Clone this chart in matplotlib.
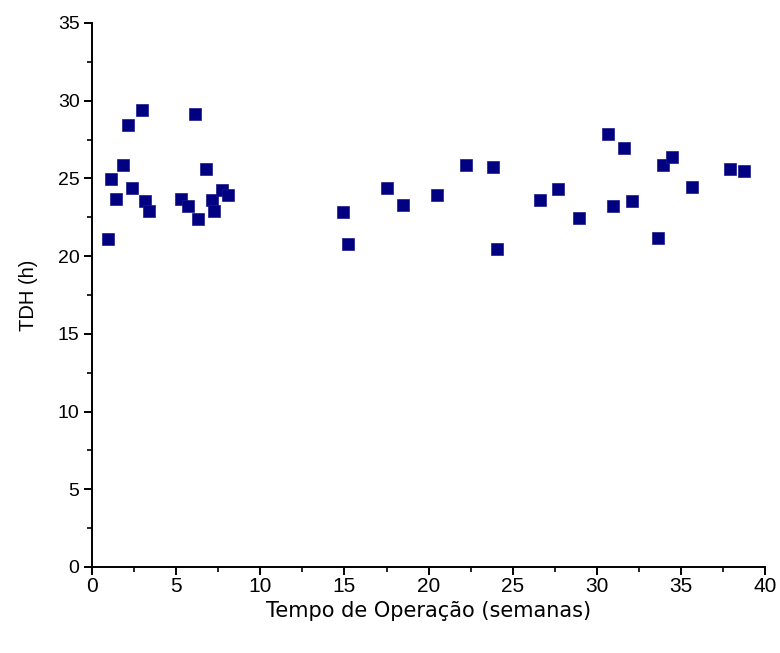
import numpy as np
import matplotlib
matplotlib.use('Agg')
import matplotlib.pyplot as plt
from matplotlib.ticker import MultipleLocator

# semanas de operacao e TDH (h)
semanas = [0.95, 1.13, 1.43, 1.84, 2.14, 2.38, 2.97, 3.15, 3.39,
           5.29, 5.71, 6.12, 6.30, 6.78, 7.13, 7.25, 7.73, 8.08,
           14.93, 15.23, 17.51, 18.50, 20.52, 22.23, 23.82, 24.09,
           26.63, 27.66, 28.95, 30.65, 30.95, 31.64, 32.08, 33.66,
           33.92, 34.49, 35.64, 37.92, 38.77]
tdh = [21.1, 24.96, 23.68, 25.86, 28.44, 24.38, 29.40, 23.55, 22.9,
       23.68, 23.23, 29.15, 22.39, 25.6, 23.6, 22.9, 24.25, 23.93,
       22.86, 20.76, 24.36, 23.29, 23.93, 25.86, 25.76, 20.44,
       23.61, 24.32, 22.43, 27.86, 23.23, 26.94, 23.55, 21.15,
       25.86, 26.36, 24.43, 25.61, 25.48]

plt.rcParams['font.family'] = ['Liberation Sans', 'DejaVu Sans']

fig = plt.figure(figsize=(7.8, 6.53), dpi=100)
ax = fig.add_axes([0.118, 0.1317, 0.863, 0.8331])

ax.plot(semanas, tdh, linestyle='none', marker='s', markersize=8.6,
        color='#000080', markeredgecolor='#1a1a8c', markeredgewidth=0.5)

ax.set_xlim(0, 40)
ax.set_ylim(0, 35)
ax.xaxis.set_major_locator(MultipleLocator(5))
ax.xaxis.set_minor_locator(MultipleLocator(2.5))
ax.yaxis.set_major_locator(MultipleLocator(5))
ax.yaxis.set_minor_locator(MultipleLocator(2.5))

ax.spines['top'].set_visible(False)
ax.spines['right'].set_visible(False)
ax.spines['left'].set_linewidth(1.4)
ax.spines['bottom'].set_linewidth(1.4)
ax.tick_params(which='major', direction='out', length=6, width=1.4)
ax.tick_params(which='minor', direction='out', length=3.5, width=1.2)
ax.tick_params(axis='y', labelsize=14, pad=3)
ax.tick_params(axis='x', pad=1)
for lab in ax.get_xticklabels():
    lab.set_family(['Liberation Sans Narrow', 'Liberation Sans'])
    lab.set_fontsize(15)

ax.set_xlabel('Tempo de Operação (semanas)', fontsize=15, labelpad=4,
              family=['DejaVu Sans'])
ax.set_ylabel('TDH (h)', fontsize=14.5, labelpad=14)

plt.savefig('out.png', dpi=100)
